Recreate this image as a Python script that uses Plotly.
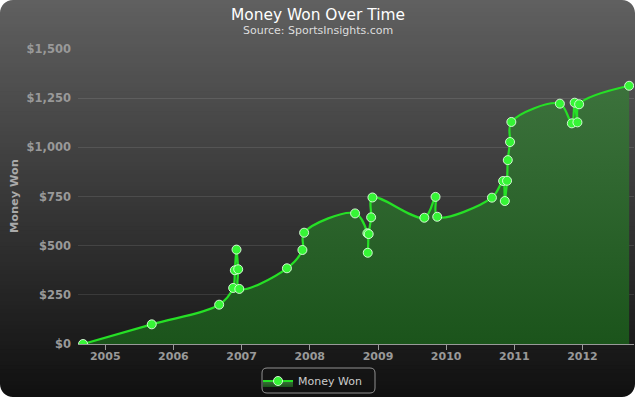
import plotly.graph_objects as go

# ---------------- data ----------------
dates = ["2004-09-04", "2005-09-07", "2006-09-03", "2006-11-17", "2006-11-26",
         "2006-12-05", "2006-12-14", "2006-12-20", "2007-09-01", "2007-11-23",
         "2007-12-02", "2008-08-31", "2008-11-05", "2008-11-07", "2008-11-12",
         "2008-11-25", "2008-12-02", "2009-09-06", "2009-11-05", "2009-11-14",
         "2010-09-03", "2010-11-02", "2010-11-11", "2010-11-23", "2010-11-27",
         "2010-12-09", "2010-12-16", "2011-09-02", "2011-11-05", "2011-11-20",
         "2011-12-05", "2011-12-14", "2012-09-07"]
money_won = [0, 100, 200, 285, 375,
             480, 380, 280, 385, 478,
             566, 664, 563, 464, 559,
             644, 745, 642, 748, 647,
             744, 829, 727, 830, 935,
             1027, 1129, 1222, 1122, 1227,
             1127, 1219, 1313]

year_ticks = [2005, 2006, 2007, 2008, 2009, 2010, 2011, 2012]
y_tick_values = [0, 250, 500, 750, 1000, 1250, 1500]
y_tick_labels = ["$0", "$250", "$500", "$750", "$1,000", "$1,250", "$1,500"]

title_text = "Money Won Over Time"
subtitle_text = "Source: SportsInsights.com"
series_name = "Money Won"

# ---------------- layout geometry ----------------
W, H = 635, 397
L, R, T, B = 78, 634, 49, 344


def fx(px):
    return (px - L) / (R - L)


def fy(py):
    return (B - py) / (B - T)


fig = go.Figure()

fig.add_trace(go.Scatter(
    x=dates, y=money_won, name=series_name,
    mode="lines+markers",
    line=dict(color="#26e026", width=2.2, shape="spline", smoothing=1.0),
    marker=dict(size=9, color="#36f536", line=dict(color="rgba(225,255,225,0.9)", width=1)),
    fill="tozeroy",
    fillgradient=dict(type="vertical",
                      colorscale=[[0, "#1b541b"], [1, "#3c723c"]]),
    hoverinfo="x+y",
))

shapes = []
# background gradient (rgb(96,96,96) -> rgb(16,16,16))
N = 100
for i in range(N):
    p0 = i * H / N
    p1 = (i + 1) * H / N + 2.5
    t = (i + 0.5) / N
    c = int(round(96 + (16 - 96) * t))
    shapes.append(dict(type="rect", xref="paper", yref="paper", layer="below",
                       x0=fx(-2), x1=fx(W + 2), y0=fy(p0), y1=fy(p1),
                       fillcolor=f"rgb({c},{c},{c})", line=dict(width=0)))

# rounded white corners
rr = 13
k = 0.5523


def corner(cx, cy, sx, sy):
    ax, ay = cx + sx * rr, cy
    bx, by = cx, cy + sy * rr
    ox, oy = cx - sx * 3, cy - sy * 3
    path = (f"M {fx(ox)},{fy(oy)} L {fx(ax)},{fy(oy)} L {fx(ax)},{fy(ay)} "
            f"C {fx(ax - sx * k * rr)},{fy(ay)} {fx(bx)},{fy(by - sy * k * rr)} {fx(bx)},{fy(by)} "
            f"L {fx(ox)},{fy(by)} Z")
    return dict(type="path", xref="paper", yref="paper", layer="below", path=path,
                fillcolor="white", line=dict(width=0))


shapes.append(corner(0, 0, 1, 1))
shapes.append(corner(W, 0, -1, 1))
shapes.append(corner(0, H, 1, -1))
shapes.append(corner(W, H, -1, -1))

# legend box with rounded corners
bx0, by0, bx1, by1, br = 262, 368, 375, 393, 5
lp = (f"M {fx(bx0 + br)},{fy(by0)} L {fx(bx1 - br)},{fy(by0)} "
      f"Q {fx(bx1)},{fy(by0)} {fx(bx1)},{fy(by0 + br)} L {fx(bx1)},{fy(by1 - br)} "
      f"Q {fx(bx1)},{fy(by1)} {fx(bx1 - br)},{fy(by1)} L {fx(bx0 + br)},{fy(by1)} "
      f"Q {fx(bx0)},{fy(by1)} {fx(bx0)},{fy(by1 - br)} L {fx(bx0)},{fy(by0 + br)} "
      f"Q {fx(bx0)},{fy(by0)} {fx(bx0 + br)},{fy(by0)} Z")
shapes.append(dict(type="path", xref="paper", yref="paper", layer="below", path=lp,
                   fillcolor="rgba(0,0,0,0)", line=dict(color="#909090", width=1)))

annotations = [
    dict(text=title_text, xref="paper", yref="paper", x=fx(W / 2), y=fy(15),
         xanchor="center", yanchor="middle", showarrow=False,
         font=dict(family="DejaVu Sans", size=15.4, color="#FFFFFF")),
    dict(text=subtitle_text, xref="paper", yref="paper", x=fx(W / 2), y=fy(30.5),
         xanchor="center", yanchor="middle", showarrow=False,
         font=dict(family="DejaVu Sans", size=11, color="#DDDDDD")),
    dict(text=series_name, xref="paper", yref="paper", x=fx(14), y=fy(196),
         xanchor="center", yanchor="middle", showarrow=False, textangle=-90,
         font=dict(family="DejaVu Sans", size=11.3, color="#AAAAAA", weight="bold")),
]

fig.update_layout(
    width=W, height=H,
    margin=dict(l=L, r=W - R, t=T, b=H - B, pad=0),
    paper_bgcolor="white",
    plot_bgcolor="rgba(0,0,0,0)",
    shapes=shapes,
    annotations=annotations,
    showlegend=True,
    legend=dict(orientation="h", xref="paper", yref="paper",
                x=fx(258), y=fy(381), xanchor="left", yanchor="middle",
                bgcolor="rgba(0,0,0,0)", borderwidth=0,
                font=dict(family="DejaVu Sans", size=11, color="#CCCCCC")),
    xaxis=dict(
        type="date",
        range=["2004-08-08", "2012-10-03"],
        tickvals=[f"{y}-01-01" for y in year_ticks],
        ticktext=[str(y) for y in year_ticks],
        showgrid=False, zeroline=False,
        showline=True, linecolor="#999999", linewidth=1,
        ticks="outside", ticklen=5, tickcolor="#999999", tickwidth=1,
        ticklabelstandoff=-3,
        tickfont=dict(family="DejaVu Sans", size=11, color="#999999", weight="bold"),
        fixedrange=True,
    ),
    yaxis=dict(
        range=[0, 1500],
        tickvals=y_tick_values, ticktext=y_tick_labels,
        showgrid=True, gridcolor="rgba(255,255,255,0.1)", gridwidth=1,
        zeroline=False, showline=False, ticks="",
        ticklabelstandoff=6,
        tickfont=dict(family="DejaVu Sans", size=11.5, color="#999999", weight="bold"),
        fixedrange=True,
    ),
)

fig.write_html("out.html", config={"displayModeBar": False},
               post_script="document.body.style.margin='0';document.body.style.overflow='hidden';")
